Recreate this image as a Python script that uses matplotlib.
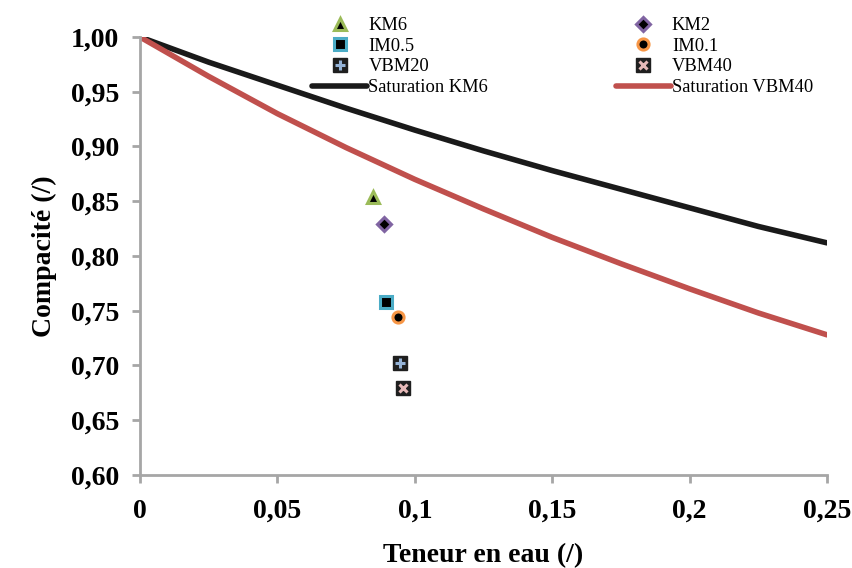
import numpy as np
import matplotlib.pyplot as plt
from matplotlib.legend_handler import HandlerTuple
from matplotlib.ticker import MultipleLocator, FuncFormatter

# saturation curves
w_sat = [0.0, 0.025, 0.05, 0.075, 0.1, 0.125, 0.15, 0.175, 0.2, 0.225, 0.25]
sat_km6 = [1.0, 0.977, 0.956, 0.935, 0.915, 0.896, 0.878, 0.861, 0.844, 0.827, 0.812]
sat_vbm40 = [1.0, 0.964, 0.930, 0.899, 0.870, 0.843, 0.817, 0.793, 0.770, 0.748, 0.728]

# measured points (one per mix)
mixes = ["KM6", "KM2", "IM0.5", "IM0.1", "VBM20", "VBM40"]
w_pts = [0.0848, 0.0888, 0.0895, 0.0939, 0.0946, 0.0957]
c_pts = [0.854, 0.829, 0.758, 0.744, 0.702, 0.679]

GREY = "#a6a6a6"


def fmt_comma(decimals):
    def f(v, pos):
        s = f"{v:.{decimals}f}" if decimals is not None else f"{v:g}"
        return s.replace(".", ",")
    return f


def main():
    plt.rcParams["font.family"] = ["Liberation Serif", "DejaVu Serif"]
    fig = plt.figure(figsize=(8.53, 5.68), dpi=100)
    ax = fig.add_axes([140 / 853, 1 - 475 / 568, 687 / 853, 438 / 568])

    l1, = ax.plot(w_sat, sat_km6, color="#1a1a1a", lw=4, solid_capstyle="round",
                  label="Saturation KM6")
    l2, = ax.plot(w_sat, sat_vbm40, color="#c0504d", lw=4, solid_capstyle="round",
                  label="Saturation VBM40")

    styles = {
        "KM6": dict(marker="^", mfc="black", mec="#9bbb59", ms=8, mew=2.2),
        "KM2": dict(marker="D", mfc="black", mec="#8064a2", ms=7, mew=2.2),
        "IM0.5": dict(marker="s", mfc="black", mec="#4bacc6", ms=8, mew=2.2),
        "IM0.1": dict(marker="o", mfc="black", mec="#f79646", ms=8, mew=2.2),
    }
    handles = {}
    for name, w, c in zip(mixes, w_pts, c_pts):
        if name in styles:
            h, = ax.plot([w], [c], ls="none", **styles[name])
            handles[name] = h
        else:
            sym, col = ("+", "#95b3d7") if name == "VBM20" else ("x", "#e6b9b8")
            a, = ax.plot([w], [c], ls="none", marker="s", mfc="#1f1f1f", mec="#1f1f1f", ms=10)
            b, = ax.plot([w], [c], ls="none", marker=sym, mec=col,
                         ms=7 if sym == "+" else 6, mew=2.2)
            handles[name] = (a, b)

    order = [handles["KM6"], handles["IM0.5"], handles["VBM20"], l1,
             handles["KM2"], handles["IM0.1"], handles["VBM40"], l2]
    labels = ["KM6", "IM0.5", "VBM20", "Saturation KM6",
              "KM2", "IM0.1", "VBM40", "Saturation VBM40"]
    ax.legend(order, labels, ncol=2, frameon=False, fontsize=13.3,
              loc="upper left", bbox_to_anchor=(172 / 687, 1 + 20 / 438),
              handlelength=3.0, handletextpad=0.05, columnspacing=6.9,
              labelspacing=0.2, borderaxespad=0, borderpad=0,
              handler_map={tuple: HandlerTuple(ndivide=1)})

    ax.set_xlim(0, 0.25)
    ax.set_ylim(0.60, 1.00)
    ax.xaxis.set_major_locator(MultipleLocator(0.05))
    ax.yaxis.set_major_locator(MultipleLocator(0.05))
    ax.xaxis.set_major_formatter(FuncFormatter(fmt_comma(None)))
    ax.yaxis.set_major_formatter(FuncFormatter(fmt_comma(2)))

    for s in ["top", "right"]:
        ax.spines[s].set_visible(False)
    for s in ["left", "bottom"]:
        ax.spines[s].set_color(GREY)
        ax.spines[s].set_linewidth(2)
    ax.tick_params(direction="out", length=6, width=2, color=GREY,
                   labelsize=20)
    ax.tick_params(axis="y", pad=9)
    ax.tick_params(axis="x", pad=11)
    for t in ax.get_xticklabels() + ax.get_yticklabels():
        t.set_fontweight("bold")

    ax.set_xlabel("Teneur en eau (/)", fontsize=20, fontweight="bold", labelpad=14)
    ax.set_ylabel("Compacité (/)", fontsize=20, fontweight="bold", labelpad=10)

    fig.savefig("out.png", dpi=100)


if __name__ == "__main__":
    main()
